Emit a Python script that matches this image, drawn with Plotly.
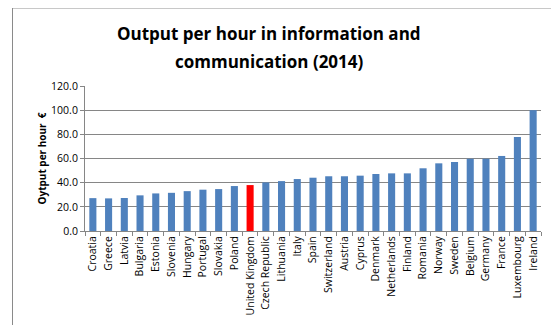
import plotly.graph_objects as go

countries = ["Croatia", "Greece", "Latvia", "Bulgaria", "Estonia", "Slovenia", "Hungary",
             "Portugal", "Slovakia", "Poland", "United Kingdom", "Czech Republic", "Lithuania",
             "Italy", "Spain", "Switzerland", "Austria", "Cyprus", "Denmark", "Netherlands",
             "Finland", "Romania", "Norway", "Sweden", "Belgium", "Germany", "France",
             "Luxembourg", "Ireland"]
output_per_hour = [27.2, 27.0, 27.3, 29.5, 31.1, 31.6, 33.0, 34.2, 34.7, 37.2, 38.0, 40.2,
                   41.3, 43.0, 44.1, 45.3, 45.3, 45.8, 47.2, 47.7, 47.7, 51.9, 56.0, 57.1,
                   59.8, 59.8, 62.1, 77.8, 100.0]
highlight = "United Kingdom"
y_ticks = [0, 20, 40, 60, 80, 100, 120]

bar_colors = ["#ff0000" if c == highlight else "#4f81bd" for c in countries]

W, H = 551, 325
ml, mr, mt, mb = 85, 10, 86, 94
pw, ph = W - ml - mr, H - mt - mb

fig = go.Figure(go.Bar(x=countries, y=output_per_hour, marker_color=bar_colors,
                       marker_line_width=0))

def px_x(p):
    return (p - ml) / pw

def px_y(p):
    return (H - mb - p) / ph

fig.update_layout(
    width=W, height=H,
    margin=dict(l=ml, r=mr, t=mt, b=mb),
    paper_bgcolor="white", plot_bgcolor="white",
    bargap=0.55,
    showlegend=False,
    font=dict(family="Open Sans, Liberation Sans, sans-serif", color="#000000"),
    xaxis=dict(type="category", tickangle=-90, tickfont=dict(size=10.5),
               showline=True, linecolor="#868686", linewidth=1,
               ticks="outside", tickson="boundaries", ticklen=4, tickcolor="#868686",
               showgrid=False),
    yaxis=dict(range=[0, 120], tickvals=y_ticks, tickformat=".1f",
               tickfont=dict(size=10.5),
               showline=True, linecolor="#868686", linewidth=1,
               ticks="outside", ticklen=4, tickcolor="#868686",
               showgrid=True, gridcolor="#868686", gridwidth=1, zeroline=False,
               title=dict(text="<b>Oytput per hour  €</b>", font=dict(size=10), standoff=2)),
    annotations=[
        dict(text="<b>Output per hour in information and</b>", xref="paper", yref="paper",
             x=px_x(269), y=px_y(34), xanchor="center", yanchor="middle", showarrow=False,
             font=dict(size=17, family="Open Sans, sans-serif", color="#000000")),
        dict(text="<b>communication (2014)</b>", xref="paper", yref="paper",
             x=px_x(269), y=px_y(61), xanchor="center", yanchor="middle", showarrow=False,
             font=dict(size=17, family="Open Sans, sans-serif", color="#000000")),
    ],
    shapes=[
        dict(type="line", xref="paper", yref="paper", layer="above",
             x0=px_x(12), x1=px_x(W), y0=px_y(8.5), y1=px_y(8.5),
             line=dict(color="#c8c8c8", width=1)),
        dict(type="line", xref="paper", yref="paper", layer="above",
             x0=px_x(12.5), x1=px_x(12.5), y0=px_y(8), y1=px_y(H),
             line=dict(color="#8a8a8a", width=1)),
    ],
)

fig.write_html("out.html")
